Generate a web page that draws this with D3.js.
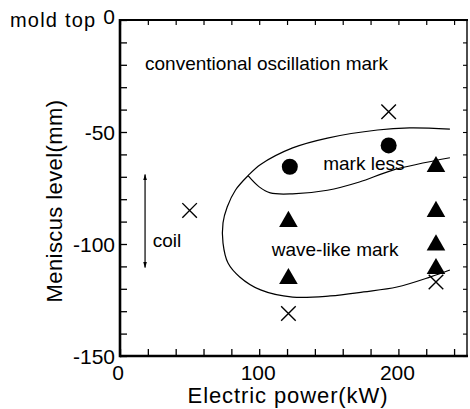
<!DOCTYPE html>
<html>
<head>
<meta charset="utf-8">
<script src="https://cdn.jsdelivr.net/npm/d3@7"></script>
<style>
  body { margin: 0; background: #fff; }
  svg { display: block; font-family: "Liberation Sans", Arial, Helvetica, sans-serif; }
</style>
</head>
<body>
<div id="chart"></div>
<script>
// points: [power kW, meniscus level mm]
const crossPoints = [[50, -85], [193, -41], [121, -131], [227, -117]];
const circlePoints = [[122, -65.5], [193, -56]];
const trianglePoints = [[121, -90], [121, -115.5], [227, -65.5], [227, -85.5], [227, -100.5], [227, -111]];

// outer boundary of the "mark less / wave-like" region
const outerCurve = [
  [237, -48.7], [208, -48.2], [185, -49.1], [149, -52.7], [124, -57.1], [101, -64.5],
  [92, -69.5], [83, -75.9], [77, -83.5], [74, -90.6], [74, -99.6], [77.6, -108.5],
  [86, -114.7], [101, -120.5], [124, -123.7], [151, -123.2], [175, -121.4],
  [199, -119.2], [223, -114.7], [237, -111.6]
];
// lower edge of the "mark less" zone
const innerCurve = [[92, -69.5], [100, -74.5], [108, -77.2], [124, -77.6], [149, -76], [172, -72.3], [196, -67], [237, -61.5]];

const xTicks = [0, 100, 200];
const yTicks = [0, -50, -100, -150];
const coilRange = [-69, -110.5];

const width = 470, height = 409;
const marginTop = 20, marginRight = 2, marginBottom = 53, marginLeft = 120;

const x = d3.scaleLinear([0, 250], [marginLeft, width - marginRight]);
const y = d3.scaleLinear([-150, 0], [height - marginBottom, marginTop]);

const svg = d3.select("#chart").append("svg")
  .attr("width", width)
  .attr("height", height)
  .attr("viewBox", [0, 0, width, height]);

svg.append("defs").append("marker")
  .attr("id", "arrow")
  .attr("viewBox", "0 0 10 10")
  .attr("refX", 9).attr("refY", 5)
  .attr("markerWidth", 5).attr("markerHeight", 8)
  .attr("orient", "auto-start-reverse")
  .append("path")
  .attr("d", "M0,2 L10,5 L0,8 Z")
  .attr("fill", "#000");

// minor ticks, all pointing inward
const minorX = d3.range(0, 250, 20);
const minorY = d3.range(-150, 1, 10);

const bottomAxis = svg.append("g")
  .attr("transform", `translate(0,${y(-150)})`)
  .call(d3.axisBottom(x).tickValues(minorX).tickSize(-7).tickFormat(""))
  .call(g => g.select(".domain").remove());
bottomAxis.selectAll(".tick line").attr("stroke-width", 1.3);

const topAxis = svg.append("g")
  .attr("transform", `translate(0,${y(0)})`)
  .call(d3.axisTop(x).tickValues(minorX).tickSize(-5).tickFormat(""))
  .call(g => g.select(".domain").remove());
topAxis.selectAll(".tick line").attr("stroke-width", 1.2);

const leftAxis = svg.append("g")
  .attr("transform", `translate(${x(0)},0)`)
  .call(d3.axisLeft(y).tickValues(minorY).tickSize(-7).tickFormat(""))
  .call(g => g.select(".domain").remove());
leftAxis.selectAll(".tick line").attr("stroke-width", 1.3);

const rightAxis = svg.append("g")
  .attr("transform", `translate(${x(250) - 1},0)`)
  .call(d3.axisRight(y).tickValues(minorY).tickSize(-4).tickFormat(""))
  .call(g => g.select(".domain").remove());
rightAxis.selectAll(".tick line").attr("stroke-width", 1.1);

// frame
const frame = svg.append("g").attr("stroke", "#000").attr("fill", "none");
frame.append("line").attr("x1", x(0)).attr("x2", x(0)).attr("y1", y(0) - 1).attr("y2", y(-150) + 1.3).attr("stroke-width", 2.6);
frame.append("line").attr("x1", x(0)).attr("x2", x(250)).attr("y1", y(-150)).attr("y2", y(-150)).attr("stroke-width", 2.6);
frame.append("line").attr("x1", x(0)).attr("x2", x(250)).attr("y1", y(0)).attr("y2", y(0)).attr("stroke-width", 2.2);
frame.append("line").attr("x1", x(250) - 1).attr("x2", x(250) - 1).attr("y1", y(0)).attr("y2", y(-150)).attr("stroke-width", 1.4);

// tick labels
svg.append("g")
  .selectAll("text")
  .data(xTicks)
  .join("text")
  .attr("x", d => x(d) - (d === 0 ? 2 : 1))
  .attr("y", y(-150) + 24)
  .attr("text-anchor", "middle")
  .attr("font-size", 21)
  .text(d => d);

svg.append("g")
  .selectAll("text")
  .data(yTicks)
  .join("text")
  .attr("x", x(0) - 5)
  .attr("y", d => y(d) + (d === 0 ? -4 : 0))
  .attr("dy", "0.36em")
  .attr("text-anchor", "end")
  .attr("font-size", 21)
  .text(d => d);

// axis titles
svg.append("text")
  .attr("x", 288)
  .attr("y", 403)
  .attr("text-anchor", "middle")
  .attr("font-size", 22)
  .attr("letter-spacing", 0.9)
  .text("Electric power(kW)");

svg.append("text")
  .attr("transform", `translate(62,${201}) rotate(-90)`)
  .attr("text-anchor", "middle")
  .attr("font-size", 22)
  .attr("letter-spacing", 0.4)
  .text("Meniscus level(mm)");

svg.append("text")
  .attr("x", 10)
  .attr("y", 27)
  .attr("font-size", 20)
  .attr("letter-spacing", 1.2)
  .text("mold top");

// region boundaries
const line = d3.line()
  .x(d => x(d[0]))
  .y(d => y(d[1]))
  .curve(d3.curveCatmullRom.alpha(0.5));

svg.append("path")
  .attr("fill", "none")
  .attr("stroke", "#000")
  .attr("stroke-width", 1.2)
  .attr("d", line(outerCurve));

svg.append("path")
  .attr("fill", "none")
  .attr("stroke", "#000")
  .attr("stroke-width", 1.2)
  .attr("d", line(innerCurve));

// coil extent
svg.append("line")
  .attr("x1", x(18)).attr("x2", x(18))
  .attr("y1", y(coilRange[0])).attr("y2", y(coilRange[1]))
  .attr("stroke", "#000")
  .attr("stroke-width", 1.2)
  .attr("marker-start", "url(#arrow)")
  .attr("marker-end", "url(#arrow)");

// region labels
const labels = [
  { text: "conventional oscillation mark", px: 18, mm: -22.5 },
  { text: "mark less", px: 146, mm: -67 },
  { text: "wave-like mark", px: 109, mm: -105.5 },
  { text: "coil", px: 23.5, mm: -101.5 }
];
svg.append("g")
  .selectAll("text")
  .data(labels)
  .join("text")
  .attr("x", d => x(d.px))
  .attr("y", d => y(d.mm))
  .attr("font-size", 19)
  .text(d => d.text);

// markers
const cross = d3.symbol().type(d3.symbolTimes).size(140);
svg.append("g")
  .selectAll("path")
  .data(crossPoints)
  .join("path")
  .attr("transform", d => `translate(${x(d[0])},${y(d[1])})`)
  .attr("d", cross)
  .attr("fill", "none")
  .attr("stroke", "#000")
  .attr("stroke-width", 1.4);

svg.append("g")
  .selectAll("circle")
  .data(circlePoints)
  .join("circle")
  .attr("cx", d => x(d[0]))
  .attr("cy", d => y(d[1]))
  .attr("r", 8)
  .attr("fill", "#000");

const tri = d3.symbol().type(d3.symbolTriangle).size(150);
svg.append("g")
  .selectAll("path")
  .data(trianglePoints)
  .join("path")
  .attr("transform", d => `translate(${x(d[0])},${y(d[1])})`)
  .attr("d", tri)
  .attr("fill", "#000");
</script>
</body>
</html>
